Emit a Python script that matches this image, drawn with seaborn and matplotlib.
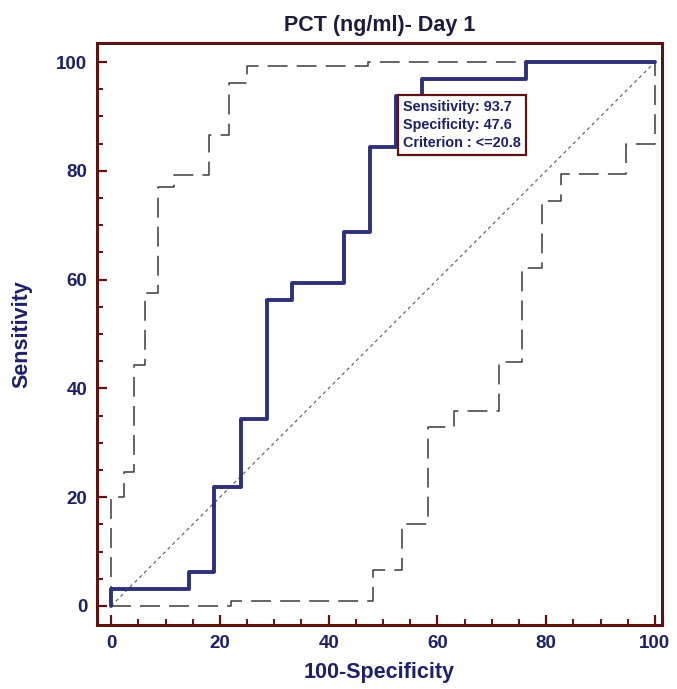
import matplotlib
matplotlib.use("Agg")
import matplotlib.pyplot as plt
import seaborn as sns
from matplotlib.ticker import MultipleLocator

# ROC curve operating points (100-Specificity, Sensitivity)
roc_fpr = [0, 0, 14.3, 19.0, 23.8, 28.6, 33.3, 42.9, 47.6, 52.4, 57.1, 76.2, 100]
roc_tpr = [0, 3.1, 6.25, 21.9, 34.4, 56.25, 59.4, 68.75, 84.4, 93.75, 96.9, 100, 100]

# Upper 95% confidence bound
upper_fpr = [0, 0, 2.3, 4.2, 6.25, 8.7, 11.6, 18.0, 21.6, 25.0, 47.3, 100]
upper_tpr = [0, 20, 24.7, 44.3, 57.5, 77.1, 79.2, 86.6, 96.1, 99.2, 100, 100]

# Lower 95% confidence bound
lower_fpr = [0, 22.0, 48.2, 53.4, 58.3, 63.1, 71.3, 75.5, 79.2, 82.7, 94.6, 100]
lower_tpr = [0, 0.9, 6.6, 15.1, 32.9, 35.9, 44.9, 62.2, 74.4, 79.4, 84.9, 100]

# Reference diagonal
diag = [0, 100]

title = "PCT (ng/ml)- Day 1"
xlabel = "100-Specificity"
ylabel = "Sensitivity"
box_lines = ["Sensitivity: 93.7", "Specificity: 47.6", "Criterion : <=20.8"]
box_anchor = (52.4, 93.7)

sns.set_theme(style="white")
plt.rcParams["font.family"] = ["Liberation Sans", "DejaVu Sans"]

navy = "#1F2168"
maroon = "#5E1212"
curve = "#2E3079"

fig = plt.figure(figsize=(6.77, 6.89), dpi=100)
ax = fig.add_axes([97 / 677, 1 - 625 / 689, (662 - 97) / 677, (625 - 43) / 689])

# confidence bounds
sns.lineplot(x=upper_fpr, y=upper_tpr, ax=ax, sort=False, estimator=None,
             drawstyle="steps-post", color="#3A3A3A", lw=1.1)
ax.lines[-1].set_linestyle((0, (13, 6)))
sns.lineplot(x=lower_fpr, y=lower_tpr, ax=ax, sort=False, estimator=None,
             drawstyle="steps-post", color="#3A3A3A", lw=1.1)
ax.lines[-1].set_linestyle((0, (13, 6)))

# diagonal
sns.lineplot(x=diag, y=diag, ax=ax, sort=False, estimator=None,
             color="#555555", lw=0.8)
ax.lines[-1].set_linestyle((0, (3, 3)))

# ROC curve
sns.lineplot(x=roc_fpr, y=roc_tpr, ax=ax, sort=False, estimator=None,
             drawstyle="steps-post", color=curve, lw=2.8)

ax.annotate("\n".join(box_lines), xy=box_anchor, xytext=(5, -3),
            textcoords="offset points",
            ha="left", va="top", fontsize=10.4, fontweight="bold", color=navy,
            linespacing=1.35, zorder=10,
            bbox=dict(boxstyle="square,pad=0.35", facecolor="white",
                      edgecolor=maroon, linewidth=1.6))

ax.set_xlim(-2.6, 101.3)
ax.set_ylim(-3.5, 103.5)
ax.xaxis.set_major_locator(MultipleLocator(20))
ax.xaxis.set_minor_locator(MultipleLocator(5))
ax.yaxis.set_major_locator(MultipleLocator(20))
ax.yaxis.set_minor_locator(MultipleLocator(5))

for sp in ax.spines.values():
    sp.set_color(maroon)
    sp.set_linewidth(2.2)

ax.tick_params(which="major", direction="in", length=7, width=1.6, color=maroon,
               labelsize=13.5, labelcolor=navy, pad=7, bottom=True, left=True)
ax.tick_params(which="minor", direction="in", length=4, width=1.4, color=maroon,
               bottom=True, left=True)
for lab in ax.get_xticklabels() + ax.get_yticklabels():
    lab.set_fontweight("bold")

ax.set_title(title, fontsize=15.5, fontweight="bold", color="#1C1C3C", pad=9)
ax.set_xlabel(xlabel, fontsize=15.5, fontweight="bold", color=navy)
ax.set_ylabel(ylabel, fontsize=15.5, fontweight="bold", color=navy)
ax.xaxis.set_label_coords(0.5, -0.064)
ax.yaxis.set_label_coords(-0.115, 0.5)

fig.savefig("out.png", dpi=100)
